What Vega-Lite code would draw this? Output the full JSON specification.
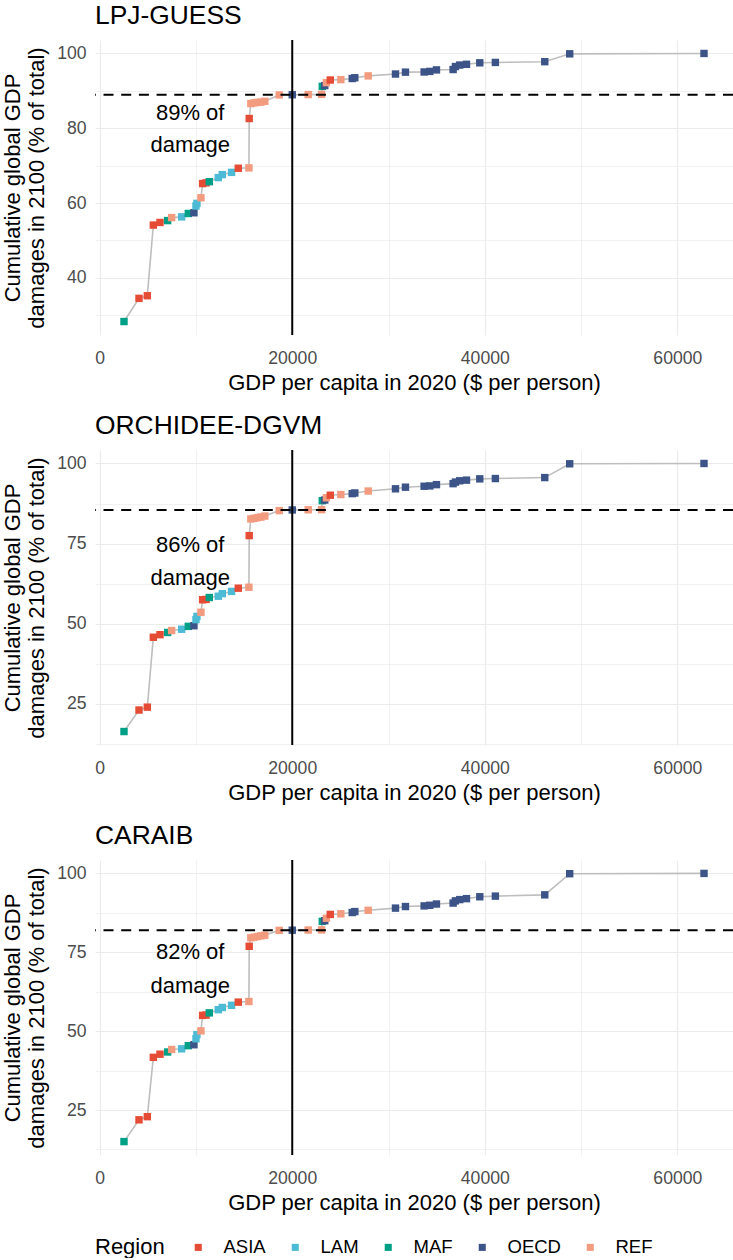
{
  "$schema": "https://vega.github.io/schema/vega-lite/v6.json",
  "background": "white",
  "padding": {"left": 1, "top": 2, "right": 2, "bottom": 0},
  "spacing": 18,
  "config": {
    "view": {"stroke": null},
    "font": "Liberation Sans",
    "axis": {
      "domain": false, "ticks": false, "tickSize": 0,
      "labelFont": "Liberation Sans", "labelFontSize": 17.6, "labelColor": "#4D4D4D",
      "titleFont": "Liberation Sans", "titleFontSize": 22, "titleFontWeight": "normal", "titleColor": "black",
      "gridColor": "#EBEBEB", "labelFlush": false, "labelOverlap": false
    },
    "axisX": {"labelPadding": 14, "titlePadding": 6},
    "axisY": {"labelPadding": 9, "titlePadding": 8, "titleLineHeight": 24},
    "title": {"font": "Liberation Sans", "fontSize": 26.4, "fontWeight": "normal", "color": "black", "anchor": "start", "frame": "group", "offset": 10},
    "legend": {
      "orient": "bottom", "direction": "horizontal", "titleOrient": "left",
      "titleFont": "Liberation Sans", "titleFontSize": 22, "titleFontWeight": "normal", "titleColor": "black", "titlePadding": 24,
      "labelFont": "Liberation Sans", "labelFontSize": 18.5, "labelColor": "black", "labelOffset": 16,
      "symbolType": "square", "symbolSize": 50, "symbolStrokeWidth": 0, "symbolOpacity": 1, "columnPadding": 20, "offset": 24
    }
  },
  "datasets": {
    "pts": [
      {"model": "LPJ-GUESS", "gdp": 2525, "cum": 28.3, "region": "MAF"},
      {"model": "LPJ-GUESS", "gdp": 4083, "cum": 34.5, "region": "ASIA"},
      {"model": "LPJ-GUESS", "gdp": 4948, "cum": 35.2, "region": "ASIA"},
      {"model": "LPJ-GUESS", "gdp": 5571, "cum": 54.1, "region": "ASIA"},
      {"model": "LPJ-GUESS", "gdp": 6263, "cum": 54.8, "region": "ASIA"},
      {"model": "LPJ-GUESS", "gdp": 7058, "cum": 55.3, "region": "MAF"},
      {"model": "LPJ-GUESS", "gdp": 7474, "cum": 56.1, "region": "REF"},
      {"model": "LPJ-GUESS", "gdp": 8512, "cum": 56.3, "region": "LAM"},
      {"model": "LPJ-GUESS", "gdp": 9204, "cum": 57.2, "region": "MAF"},
      {"model": "LPJ-GUESS", "gdp": 9791, "cum": 57.4, "region": "OECD"},
      {"model": "LPJ-GUESS", "gdp": 10000, "cum": 59.2, "region": "LAM"},
      {"model": "LPJ-GUESS", "gdp": 10100, "cum": 59.9, "region": "LAM"},
      {"model": "LPJ-GUESS", "gdp": 10517, "cum": 61.4, "region": "REF"},
      {"model": "LPJ-GUESS", "gdp": 10691, "cum": 65.2, "region": "ASIA"},
      {"model": "LPJ-GUESS", "gdp": 11050, "cum": 65.4, "region": "ASIA"},
      {"model": "LPJ-GUESS", "gdp": 11385, "cum": 65.7, "region": "MAF"},
      {"model": "LPJ-GUESS", "gdp": 12318, "cum": 66.8, "region": "LAM"},
      {"model": "LPJ-GUESS", "gdp": 12733, "cum": 67.6, "region": "LAM"},
      {"model": "LPJ-GUESS", "gdp": 13700, "cum": 68.2, "region": "LAM"},
      {"model": "LPJ-GUESS", "gdp": 14394, "cum": 69.3, "region": "ASIA"},
      {"model": "LPJ-GUESS", "gdp": 15501, "cum": 69.4, "region": "REF"},
      {"model": "LPJ-GUESS", "gdp": 15530, "cum": 82.6, "region": "ASIA"},
      {"model": "LPJ-GUESS", "gdp": 15700, "cum": 86.6, "region": "REF"},
      {"model": "LPJ-GUESS", "gdp": 16050, "cum": 86.8, "region": "REF"},
      {"model": "LPJ-GUESS", "gdp": 16400, "cum": 86.9, "region": "REF"},
      {"model": "LPJ-GUESS", "gdp": 16750, "cum": 87.0, "region": "REF"},
      {"model": "LPJ-GUESS", "gdp": 17150, "cum": 87.2, "region": "REF"},
      {"model": "LPJ-GUESS", "gdp": 18650, "cum": 88.9, "region": "REF"},
      {"model": "LPJ-GUESS", "gdp": 20003, "cum": 88.95, "region": "OECD"},
      {"model": "LPJ-GUESS", "gdp": 21660, "cum": 89.0, "region": "REF"},
      {"model": "LPJ-GUESS", "gdp": 23050, "cum": 89.05, "region": "REF"},
      {"model": "LPJ-GUESS", "gdp": 23120, "cum": 91.2, "region": "MAF"},
      {"model": "LPJ-GUESS", "gdp": 23380, "cum": 91.4, "region": "OECD"},
      {"model": "LPJ-GUESS", "gdp": 23550, "cum": 92.2, "region": "REF"},
      {"model": "LPJ-GUESS", "gdp": 23950, "cum": 92.9, "region": "ASIA"},
      {"model": "LPJ-GUESS", "gdp": 25050, "cum": 93.0, "region": "REF"},
      {"model": "LPJ-GUESS", "gdp": 26230, "cum": 93.3, "region": "OECD"},
      {"model": "LPJ-GUESS", "gdp": 26500, "cum": 93.5, "region": "OECD"},
      {"model": "LPJ-GUESS", "gdp": 27890, "cum": 94.0, "region": "REF"},
      {"model": "LPJ-GUESS", "gdp": 30725, "cum": 94.5, "region": "OECD"},
      {"model": "LPJ-GUESS", "gdp": 31760, "cum": 95.0, "region": "OECD"},
      {"model": "LPJ-GUESS", "gdp": 33700, "cum": 95.05, "region": "OECD"},
      {"model": "LPJ-GUESS", "gdp": 34290, "cum": 95.2, "region": "OECD"},
      {"model": "LPJ-GUESS", "gdp": 34980, "cum": 95.6, "region": "OECD"},
      {"model": "LPJ-GUESS", "gdp": 36710, "cum": 95.7, "region": "OECD"},
      {"model": "LPJ-GUESS", "gdp": 36950, "cum": 96.5, "region": "OECD"},
      {"model": "LPJ-GUESS", "gdp": 37400, "cum": 96.9, "region": "OECD"},
      {"model": "LPJ-GUESS", "gdp": 38100, "cum": 97.1, "region": "OECD"},
      {"model": "LPJ-GUESS", "gdp": 39480, "cum": 97.5, "region": "OECD"},
      {"model": "LPJ-GUESS", "gdp": 41100, "cum": 97.6, "region": "OECD"},
      {"model": "LPJ-GUESS", "gdp": 46230, "cum": 97.8, "region": "OECD"},
      {"model": "LPJ-GUESS", "gdp": 48820, "cum": 99.9, "region": "OECD"},
      {"model": "LPJ-GUESS", "gdp": 62770, "cum": 100, "region": "OECD"},

      {"model": "ORCHIDEE-DGVM", "gdp": 2525, "cum": 16.4, "region": "MAF"},
      {"model": "ORCHIDEE-DGVM", "gdp": 4083, "cum": 23.1, "region": "ASIA"},
      {"model": "ORCHIDEE-DGVM", "gdp": 4948, "cum": 24.0, "region": "ASIA"},
      {"model": "ORCHIDEE-DGVM", "gdp": 5571, "cum": 45.8, "region": "ASIA"},
      {"model": "ORCHIDEE-DGVM", "gdp": 6263, "cum": 46.6, "region": "ASIA"},
      {"model": "ORCHIDEE-DGVM", "gdp": 7058, "cum": 47.3, "region": "MAF"},
      {"model": "ORCHIDEE-DGVM", "gdp": 7474, "cum": 47.9, "region": "REF"},
      {"model": "ORCHIDEE-DGVM", "gdp": 8512, "cum": 48.3, "region": "LAM"},
      {"model": "ORCHIDEE-DGVM", "gdp": 9204, "cum": 49.2, "region": "MAF"},
      {"model": "ORCHIDEE-DGVM", "gdp": 9791, "cum": 49.4, "region": "OECD"},
      {"model": "ORCHIDEE-DGVM", "gdp": 10000, "cum": 51.3, "region": "LAM"},
      {"model": "ORCHIDEE-DGVM", "gdp": 10100, "cum": 52.3, "region": "LAM"},
      {"model": "ORCHIDEE-DGVM", "gdp": 10517, "cum": 53.6, "region": "REF"},
      {"model": "ORCHIDEE-DGVM", "gdp": 10691, "cum": 57.5, "region": "ASIA"},
      {"model": "ORCHIDEE-DGVM", "gdp": 11050, "cum": 57.6, "region": "ASIA"},
      {"model": "ORCHIDEE-DGVM", "gdp": 11385, "cum": 58.2, "region": "MAF"},
      {"model": "ORCHIDEE-DGVM", "gdp": 12318, "cum": 58.6, "region": "LAM"},
      {"model": "ORCHIDEE-DGVM", "gdp": 12733, "cum": 59.4, "region": "LAM"},
      {"model": "ORCHIDEE-DGVM", "gdp": 13700, "cum": 60.1, "region": "LAM"},
      {"model": "ORCHIDEE-DGVM", "gdp": 14394, "cum": 61.1, "region": "ASIA"},
      {"model": "ORCHIDEE-DGVM", "gdp": 15501, "cum": 61.4, "region": "REF"},
      {"model": "ORCHIDEE-DGVM", "gdp": 15530, "cum": 77.5, "region": "ASIA"},
      {"model": "ORCHIDEE-DGVM", "gdp": 15700, "cum": 82.7, "region": "REF"},
      {"model": "ORCHIDEE-DGVM", "gdp": 16050, "cum": 82.9, "region": "REF"},
      {"model": "ORCHIDEE-DGVM", "gdp": 16400, "cum": 83.1, "region": "REF"},
      {"model": "ORCHIDEE-DGVM", "gdp": 16750, "cum": 83.3, "region": "REF"},
      {"model": "ORCHIDEE-DGVM", "gdp": 17150, "cum": 83.6, "region": "REF"},
      {"model": "ORCHIDEE-DGVM", "gdp": 18650, "cum": 85.3, "region": "REF"},
      {"model": "ORCHIDEE-DGVM", "gdp": 20003, "cum": 85.5, "region": "OECD"},
      {"model": "ORCHIDEE-DGVM", "gdp": 21660, "cum": 85.55, "region": "REF"},
      {"model": "ORCHIDEE-DGVM", "gdp": 23050, "cum": 85.6, "region": "REF"},
      {"model": "ORCHIDEE-DGVM", "gdp": 23120, "cum": 88.4, "region": "MAF"},
      {"model": "ORCHIDEE-DGVM", "gdp": 23380, "cum": 88.6, "region": "OECD"},
      {"model": "ORCHIDEE-DGVM", "gdp": 23550, "cum": 89.3, "region": "REF"},
      {"model": "ORCHIDEE-DGVM", "gdp": 23950, "cum": 90.1, "region": "ASIA"},
      {"model": "ORCHIDEE-DGVM", "gdp": 25050, "cum": 90.3, "region": "REF"},
      {"model": "ORCHIDEE-DGVM", "gdp": 26230, "cum": 90.6, "region": "OECD"},
      {"model": "ORCHIDEE-DGVM", "gdp": 26500, "cum": 90.8, "region": "OECD"},
      {"model": "ORCHIDEE-DGVM", "gdp": 27890, "cum": 91.4, "region": "REF"},
      {"model": "ORCHIDEE-DGVM", "gdp": 30725, "cum": 92.1, "region": "OECD"},
      {"model": "ORCHIDEE-DGVM", "gdp": 31760, "cum": 92.6, "region": "OECD"},
      {"model": "ORCHIDEE-DGVM", "gdp": 33700, "cum": 92.9, "region": "OECD"},
      {"model": "ORCHIDEE-DGVM", "gdp": 34290, "cum": 93.0, "region": "OECD"},
      {"model": "ORCHIDEE-DGVM", "gdp": 34980, "cum": 93.4, "region": "OECD"},
      {"model": "ORCHIDEE-DGVM", "gdp": 36710, "cum": 93.7, "region": "OECD"},
      {"model": "ORCHIDEE-DGVM", "gdp": 36950, "cum": 94.2, "region": "OECD"},
      {"model": "ORCHIDEE-DGVM", "gdp": 37400, "cum": 94.6, "region": "OECD"},
      {"model": "ORCHIDEE-DGVM", "gdp": 38100, "cum": 94.8, "region": "OECD"},
      {"model": "ORCHIDEE-DGVM", "gdp": 39480, "cum": 95.2, "region": "OECD"},
      {"model": "ORCHIDEE-DGVM", "gdp": 41100, "cum": 95.3, "region": "OECD"},
      {"model": "ORCHIDEE-DGVM", "gdp": 46230, "cum": 95.6, "region": "OECD"},
      {"model": "ORCHIDEE-DGVM", "gdp": 48820, "cum": 99.9, "region": "OECD"},
      {"model": "ORCHIDEE-DGVM", "gdp": 62770, "cum": 100, "region": "OECD"},

      {"model": "CARAIB", "gdp": 2525, "cum": 15.0, "region": "MAF"},
      {"model": "CARAIB", "gdp": 4083, "cum": 21.9, "region": "ASIA"},
      {"model": "CARAIB", "gdp": 4948, "cum": 22.9, "region": "ASIA"},
      {"model": "CARAIB", "gdp": 5571, "cum": 41.7, "region": "ASIA"},
      {"model": "CARAIB", "gdp": 6263, "cum": 42.7, "region": "ASIA"},
      {"model": "CARAIB", "gdp": 7058, "cum": 43.4, "region": "MAF"},
      {"model": "CARAIB", "gdp": 7474, "cum": 44.2, "region": "REF"},
      {"model": "CARAIB", "gdp": 8512, "cum": 44.4, "region": "LAM"},
      {"model": "CARAIB", "gdp": 9204, "cum": 45.4, "region": "MAF"},
      {"model": "CARAIB", "gdp": 9791, "cum": 45.7, "region": "OECD"},
      {"model": "CARAIB", "gdp": 10000, "cum": 47.6, "region": "LAM"},
      {"model": "CARAIB", "gdp": 10100, "cum": 48.9, "region": "LAM"},
      {"model": "CARAIB", "gdp": 10517, "cum": 50.1, "region": "REF"},
      {"model": "CARAIB", "gdp": 10691, "cum": 55.0, "region": "ASIA"},
      {"model": "CARAIB", "gdp": 11050, "cum": 55.1, "region": "ASIA"},
      {"model": "CARAIB", "gdp": 11385, "cum": 55.8, "region": "MAF"},
      {"model": "CARAIB", "gdp": 12318, "cum": 56.8, "region": "LAM"},
      {"model": "CARAIB", "gdp": 12733, "cum": 57.5, "region": "LAM"},
      {"model": "CARAIB", "gdp": 13700, "cum": 58.2, "region": "LAM"},
      {"model": "CARAIB", "gdp": 14394, "cum": 59.2, "region": "ASIA"},
      {"model": "CARAIB", "gdp": 15501, "cum": 59.4, "region": "REF"},
      {"model": "CARAIB", "gdp": 15530, "cum": 76.9, "region": "ASIA"},
      {"model": "CARAIB", "gdp": 15700, "cum": 79.6, "region": "REF"},
      {"model": "CARAIB", "gdp": 16050, "cum": 79.8, "region": "REF"},
      {"model": "CARAIB", "gdp": 16400, "cum": 80.0, "region": "REF"},
      {"model": "CARAIB", "gdp": 16750, "cum": 80.2, "region": "REF"},
      {"model": "CARAIB", "gdp": 17150, "cum": 80.4, "region": "REF"},
      {"model": "CARAIB", "gdp": 18650, "cum": 81.95, "region": "REF"},
      {"model": "CARAIB", "gdp": 20003, "cum": 82.0, "region": "OECD"},
      {"model": "CARAIB", "gdp": 21660, "cum": 82.05, "region": "REF"},
      {"model": "CARAIB", "gdp": 23050, "cum": 82.1, "region": "REF"},
      {"model": "CARAIB", "gdp": 23120, "cum": 84.8, "region": "MAF"},
      {"model": "CARAIB", "gdp": 23380, "cum": 85.0, "region": "OECD"},
      {"model": "CARAIB", "gdp": 23550, "cum": 85.8, "region": "REF"},
      {"model": "CARAIB", "gdp": 23950, "cum": 87.0, "region": "ASIA"},
      {"model": "CARAIB", "gdp": 25050, "cum": 87.2, "region": "REF"},
      {"model": "CARAIB", "gdp": 26230, "cum": 87.6, "region": "OECD"},
      {"model": "CARAIB", "gdp": 26500, "cum": 87.9, "region": "OECD"},
      {"model": "CARAIB", "gdp": 27890, "cum": 88.3, "region": "REF"},
      {"model": "CARAIB", "gdp": 30725, "cum": 89.0, "region": "OECD"},
      {"model": "CARAIB", "gdp": 31760, "cum": 89.5, "region": "OECD"},
      {"model": "CARAIB", "gdp": 33700, "cum": 89.7, "region": "OECD"},
      {"model": "CARAIB", "gdp": 34290, "cum": 89.9, "region": "OECD"},
      {"model": "CARAIB", "gdp": 34980, "cum": 90.3, "region": "OECD"},
      {"model": "CARAIB", "gdp": 36710, "cum": 90.6, "region": "OECD"},
      {"model": "CARAIB", "gdp": 36950, "cum": 91.3, "region": "OECD"},
      {"model": "CARAIB", "gdp": 37400, "cum": 91.7, "region": "OECD"},
      {"model": "CARAIB", "gdp": 38100, "cum": 92.0, "region": "OECD"},
      {"model": "CARAIB", "gdp": 39480, "cum": 92.6, "region": "OECD"},
      {"model": "CARAIB", "gdp": 41100, "cum": 92.8, "region": "OECD"},
      {"model": "CARAIB", "gdp": 46230, "cum": 93.2, "region": "OECD"},
      {"model": "CARAIB", "gdp": 48820, "cum": 99.9, "region": "OECD"},
      {"model": "CARAIB", "gdp": 62770, "cum": 100, "region": "OECD"}
    ],
    "refs": [
      {"model": "LPJ-GUESS", "gdp": 20000, "cum": 88.95},
      {"model": "ORCHIDEE-DGVM", "gdp": 20000, "cum": 85.5},
      {"model": "CARAIB", "gdp": 20000, "cum": 82.0}
    ],
    "notes": [
      {"model": "LPJ-GUESS", "gdp": 9400, "cum": 84.1, "label": "89% of"},
      {"model": "LPJ-GUESS", "gdp": 9400, "cum": 75.6, "label": "damage"},
      {"model": "ORCHIDEE-DGVM", "gdp": 9400, "cum": 74.7, "label": "86% of"},
      {"model": "ORCHIDEE-DGVM", "gdp": 9400, "cum": 64.3, "label": "damage"},
      {"model": "CARAIB", "gdp": 9400, "cum": 75.0, "label": "82% of"},
      {"model": "CARAIB", "gdp": 9400, "cum": 64.4, "label": "damage"}
    ]
  },
  "resolve": {"scale": {"color": "shared"}},
  "vconcat": [
    {
      "title": {"text": "LPJ-GUESS"},
      "width": 638, "height": 295,
      "encoding": {
        "x": {"field": "gdp", "type": "quantitative", "scale": {"domain": [-487, 65782], "nice": false, "zero": false},
              "axis": {"title": "GDP per capita in 2020 ($ per person)", "values": [0, 10000, 20000, 30000, 40000, 50000, 60000], "format": "d",
                       "labelExpr": "datum.value % 20000 === 0 ? datum.label : ''",
                       "gridWidth": {"condition": {"test": "datum.value % 20000 !== 0", "value": 0.7}, "value": 1.2}}},
        "y": {"field": "cum", "type": "quantitative", "scale": {"domain": [24.7, 103.6], "nice": false, "zero": false},
              "axis": {"title": ["Cumulative global GDP", "damages in 2100 (% of total)"], "values": [30, 40, 50, 60, 70, 80, 90, 100],
                       "labelExpr": "datum.value % 20 === 0 ? datum.label : ''",
                       "gridWidth": {"condition": {"test": "datum.value % 20 !== 0", "value": 0.7}, "value": 1.2}}}
      },
      "layer": [
        {"data": {"name": "pts"}, "transform": [{"filter": "datum.model === 'LPJ-GUESS'"}],
         "mark": {"type": "line", "color": "#BEBEBE", "strokeWidth": 1.6}, "encoding": {"order": {"field": "gdp", "type": "quantitative"}}},
        {"data": {"name": "pts"}, "transform": [{"filter": "datum.model === 'LPJ-GUESS'"}],
         "mark": {"type": "point", "shape": "square", "filled": true, "size": 55, "opacity": 1},
         "encoding": {"color": {"field": "region", "type": "nominal", "title": "Region",
           "scale": {"domain": ["ASIA", "LAM", "MAF", "OECD", "REF"], "range": ["#E64B35", "#4DBBD5", "#00A087", "#3C5488", "#F39B7F"]}}}},
        {"data": {"name": "refs"}, "transform": [{"filter": "datum.model === 'LPJ-GUESS'"}],
         "mark": {"type": "rule", "color": "black", "strokeWidth": 2}, "encoding": {"y": null}},
        {"data": {"name": "refs"}, "transform": [{"filter": "datum.model === 'LPJ-GUESS'"}],
         "mark": {"type": "rule", "color": "black", "strokeWidth": 2, "strokeDash": [10, 7.7]}, "encoding": {"x": null}},
        {"data": {"name": "notes"}, "transform": [{"filter": "datum.model === 'LPJ-GUESS'"}],
         "mark": {"type": "text", "font": "Liberation Sans", "fontSize": 22, "color": "black", "align": "center", "baseline": "middle"},
         "encoding": {"text": {"field": "label", "type": "nominal"}}}
      ]
    },
    {
      "title": {"text": "ORCHIDEE-DGVM"},
      "width": 638, "height": 295,
      "encoding": {
        "x": {"field": "gdp", "type": "quantitative", "scale": {"domain": [-487, 65782], "nice": false, "zero": false},
              "axis": {"title": "GDP per capita in 2020 ($ per person)", "values": [0, 10000, 20000, 30000, 40000, 50000, 60000], "format": "d",
                       "labelExpr": "datum.value % 20000 === 0 ? datum.label : ''",
                       "gridWidth": {"condition": {"test": "datum.value % 20000 !== 0", "value": 0.7}, "value": 1.2}}},
        "y": {"field": "cum", "type": "quantitative", "scale": {"domain": [12.2, 104.2], "nice": false, "zero": false},
              "axis": {"title": ["Cumulative global GDP", "damages in 2100 (% of total)"], "values": [12.5, 25, 37.5, 50, 62.5, 75, 87.5, 100],
                       "labelExpr": "datum.value % 25 === 0 ? datum.label : ''",
                       "gridWidth": {"condition": {"test": "datum.value % 25 !== 0", "value": 0.7}, "value": 1.2}}}
      },
      "layer": [
        {"data": {"name": "pts"}, "transform": [{"filter": "datum.model === 'ORCHIDEE-DGVM'"}],
         "mark": {"type": "line", "color": "#BEBEBE", "strokeWidth": 1.6}, "encoding": {"order": {"field": "gdp", "type": "quantitative"}}},
        {"data": {"name": "pts"}, "transform": [{"filter": "datum.model === 'ORCHIDEE-DGVM'"}],
         "mark": {"type": "point", "shape": "square", "filled": true, "size": 55, "opacity": 1},
         "encoding": {"color": {"field": "region", "type": "nominal", "title": "Region",
           "scale": {"domain": ["ASIA", "LAM", "MAF", "OECD", "REF"], "range": ["#E64B35", "#4DBBD5", "#00A087", "#3C5488", "#F39B7F"]}}}},
        {"data": {"name": "refs"}, "transform": [{"filter": "datum.model === 'ORCHIDEE-DGVM'"}],
         "mark": {"type": "rule", "color": "black", "strokeWidth": 2}, "encoding": {"y": null}},
        {"data": {"name": "refs"}, "transform": [{"filter": "datum.model === 'ORCHIDEE-DGVM'"}],
         "mark": {"type": "rule", "color": "black", "strokeWidth": 2, "strokeDash": [10, 7.7]}, "encoding": {"x": null}},
        {"data": {"name": "notes"}, "transform": [{"filter": "datum.model === 'ORCHIDEE-DGVM'"}],
         "mark": {"type": "text", "font": "Liberation Sans", "fontSize": 22, "color": "black", "align": "center", "baseline": "middle"},
         "encoding": {"text": {"field": "label", "type": "nominal"}}}
      ]
    },
    {
      "title": {"text": "CARAIB"},
      "width": 638, "height": 295,
      "encoding": {
        "x": {"field": "gdp", "type": "quantitative", "scale": {"domain": [-487, 65782], "nice": false, "zero": false},
              "axis": {"title": "GDP per capita in 2020 ($ per person)", "values": [0, 10000, 20000, 30000, 40000, 50000, 60000], "format": "d",
                       "labelExpr": "datum.value % 20000 === 0 ? datum.label : ''",
                       "gridWidth": {"condition": {"test": "datum.value % 20000 !== 0", "value": 0.7}, "value": 1.2}}},
        "y": {"field": "cum", "type": "quantitative", "scale": {"domain": [10.75, 104.25], "nice": false, "zero": false},
              "axis": {"title": ["Cumulative global GDP", "damages in 2100 (% of total)"], "values": [12.5, 25, 37.5, 50, 62.5, 75, 87.5, 100],
                       "labelExpr": "datum.value % 25 === 0 ? datum.label : ''",
                       "gridWidth": {"condition": {"test": "datum.value % 25 !== 0", "value": 0.7}, "value": 1.2}}}
      },
      "layer": [
        {"data": {"name": "pts"}, "transform": [{"filter": "datum.model === 'CARAIB'"}],
         "mark": {"type": "line", "color": "#BEBEBE", "strokeWidth": 1.6}, "encoding": {"order": {"field": "gdp", "type": "quantitative"}}},
        {"data": {"name": "pts"}, "transform": [{"filter": "datum.model === 'CARAIB'"}],
         "mark": {"type": "point", "shape": "square", "filled": true, "size": 55, "opacity": 1},
         "encoding": {"color": {"field": "region", "type": "nominal", "title": "Region",
           "scale": {"domain": ["ASIA", "LAM", "MAF", "OECD", "REF"], "range": ["#E64B35", "#4DBBD5", "#00A087", "#3C5488", "#F39B7F"]}}}},
        {"data": {"name": "refs"}, "transform": [{"filter": "datum.model === 'CARAIB'"}],
         "mark": {"type": "rule", "color": "black", "strokeWidth": 2}, "encoding": {"y": null}},
        {"data": {"name": "refs"}, "transform": [{"filter": "datum.model === 'CARAIB'"}],
         "mark": {"type": "rule", "color": "black", "strokeWidth": 2, "strokeDash": [10, 7.7]}, "encoding": {"x": null}},
        {"data": {"name": "notes"}, "transform": [{"filter": "datum.model === 'CARAIB'"}],
         "mark": {"type": "text", "font": "Liberation Sans", "fontSize": 22, "color": "black", "align": "center", "baseline": "middle"},
         "encoding": {"text": {"field": "label", "type": "nominal"}}}
      ]
    }
  ]
}
